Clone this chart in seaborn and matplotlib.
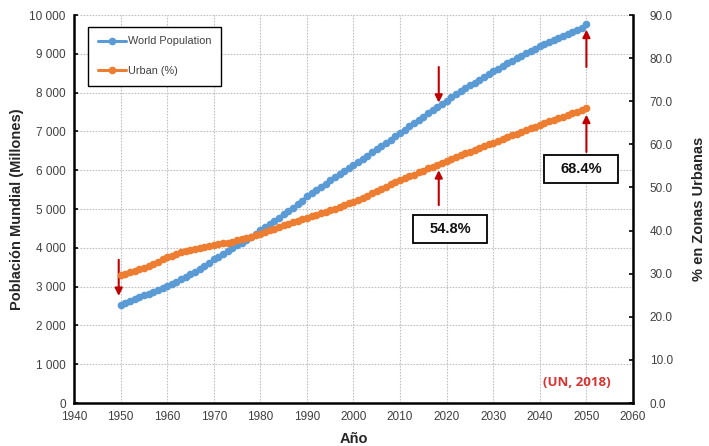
import numpy as np
import pandas as pd
import matplotlib
matplotlib.use("Agg")
import matplotlib.pyplot as plt
from matplotlib.ticker import FuncFormatter, MultipleLocator
from matplotlib.patches import Rectangle
import seaborn as sns

years = list(range(1950, 2051))
world_population = [
    2536, 2584, 2631, 2678, 2725, 2773, 2821, 2869, 2918, 2966,
    3018, 3068, 3126, 3190, 3256, 3322, 3389, 3455, 3525, 3596,
    3700, 3773, 3845, 3917, 3988, 4061, 4132, 4203, 4275, 4349,
    4458, 4536, 4617, 4699, 4780, 4863, 4947, 5033, 5120, 5207,
    5331, 5413, 5494, 5574, 5654, 5744, 5822, 5900, 5977, 6054,
    6145, 6222, 6300, 6378, 6457, 6542, 6622, 6704, 6787, 6871,
    6958, 7043, 7128, 7213, 7298, 7383, 7467, 7550, 7633, 7714,
    7795, 7875, 7954, 8032, 8109, 8184, 8259, 8333, 8405, 8476,
    8548, 8617, 8686, 8753, 8819, 8885, 8948, 9011, 9072, 9132,
    9191, 9248, 9305, 9360, 9414, 9467, 9518, 9568, 9617, 9665,
    9772,
]
urban_pct = [
    29.6, 29.9, 30.3, 30.6, 31.0, 31.4, 31.8, 32.3, 32.8, 33.3,
    33.8, 34.2, 34.6, 35.0, 35.3, 35.6, 35.8, 36.0, 36.2, 36.4,
    36.6, 36.8, 37.0, 37.2, 37.4, 37.7, 38.0, 38.3, 38.6, 38.9,
    39.3, 39.7, 40.1, 40.4, 40.8, 41.2, 41.5, 41.9, 42.3, 42.6,
    43.0, 43.3, 43.7, 44.0, 44.4, 44.8, 45.1, 45.5, 45.9, 46.3,
    46.7, 47.2, 47.6, 48.1, 48.6, 49.1, 49.6, 50.1, 50.7, 51.2,
    51.7, 52.2, 52.6, 53.0, 53.5, 53.9, 54.4, 54.8, 55.3, 55.7,
    56.2, 56.6, 57.0, 57.5, 57.9, 58.3, 58.7, 59.1, 59.6, 60.0,
    60.4, 60.8, 61.2, 61.6, 62.1, 62.5, 62.9, 63.3, 63.7, 64.1,
    64.5, 64.9, 65.3, 65.6, 66.0, 66.4, 66.8, 67.2, 67.6, 68.0,
    68.4,
]
x_ticks = list(range(1940, 2061, 10))
series_labels = ["World Population", "Urban (%)"]
box_labels = ["54.8%", "68.4%"]
source_label = "(UN, 2018)"

df = pd.DataFrame({"Año": years, "pop": world_population, "urban": urban_pct})

sns.set_theme(style="white")
plt.rcParams["font.family"] = ["Liberation Sans", "DejaVu Sans"]
narrow = ["Liberation Sans Narrow", "Liberation Sans", "DejaVu Sans"]

BLUE = "#5B9BD5"
ORANGE = "#ED7D31"
RED = "#C00000"
TICKC = "#404040"

fig = plt.figure(figsize=(7.09, 4.46), dpi=100)
ax1 = fig.add_axes([74 / 709, 1 - 403 / 446, 559 / 709, 388 / 446])
ax2 = ax1.twinx()

sns.lineplot(data=df, x="Año", y="pop", ax=ax1, color=BLUE, lw=2.2,
             marker="o", markersize=5.5, markeredgewidth=0, label=series_labels[0],
             legend=False)
sns.lineplot(data=df, x="Año", y="urban", ax=ax2, color=ORANGE, lw=2.2,
             marker="o", markersize=5.5, markeredgewidth=0, label=series_labels[1],
             legend=False)

ax1.set_xlim(1940, 2060)
ax1.set_ylim(0, 10000)
ax2.set_ylim(0, 90)
ax1.set_xticks(x_ticks)
ax1.yaxis.set_major_locator(MultipleLocator(1000))
ax2.yaxis.set_major_locator(MultipleLocator(10))
ax1.yaxis.set_major_formatter(FuncFormatter(lambda v, p: f"{int(v):,}".replace(",", " ")))
ax2.yaxis.set_major_formatter(FuncFormatter(lambda v, p: f"{v:.1f}"))

ax1.grid(True, color="#c0c0c0", linestyle=(0, (1.5, 1.2)), linewidth=0.8)
ax2.grid(False)
ax1.set_axisbelow(True)

for ax in (ax1, ax2):
    ax.spines["top"].set_visible(False)
    for s in ("left", "right", "bottom"):
        ax.spines[s].set_color("black")
        ax.spines[s].set_linewidth(1.8)
ax1.spines["right"].set_visible(False)
ax2.spines["left"].set_visible(False)
ax2.spines["bottom"].set_visible(False)

ax1.tick_params(axis="both", direction="in", length=3, width=1.2, color="black",
                labelcolor=TICKC, labelsize=8.5, pad=6)
ax2.tick_params(axis="y", direction="in", length=3, width=1.2, color="black",
                labelcolor=TICKC, labelsize=8.5, pad=12)
for lab in ax1.get_xticklabels() + ax1.get_yticklabels() + ax2.get_yticklabels():
    lab.set_family(narrow)

ax1.set_xlabel("Año", fontsize=10.5, fontweight="bold", labelpad=6)
ax1.set_ylabel("Población Mundial (Millones)", fontsize=10.5, fontweight="bold", labelpad=4)
ax2.set_ylabel("% en Zonas Urbanas", fontsize=10.5, fontweight="bold", labelpad=14)

# legend
h1, l1 = ax1.get_legend_handles_labels()
h2, l2 = ax2.get_legend_handles_labels()
leg = ax2.legend(h1 + h2, l1 + l2, loc="upper left", bbox_to_anchor=(0.025, 0.97),
                 frameon=True, fancybox=False, edgecolor="black", framealpha=1,
                 fontsize=7.8, labelspacing=1.8, handlelength=2.6, handletextpad=0.2,
                 borderpad=0.9, borderaxespad=0)
leg.get_frame().set_linewidth(1.0)
for t in leg.get_texts():
    t.set_family(narrow)
    t.set_color(TICKC)

# arrows
arrows = [
    ((1949.6, 2760), (1949.6, 3690)),
    ((2018.3, 7740), (2018.3, 8660)),
    ((2018.3, 6000), (2018.3, 5100)),
    ((2050, 9620), (2050, 8660)),
    ((2050, 7430), (2050, 6470)),
]
for head, tail in arrows:
    ax1.annotate("", xy=head, xytext=tail,
                 arrowprops=dict(arrowstyle="-|>", color=RED, lw=1.5,
                                 mutation_scale=11, shrinkA=0, shrinkB=0))

# boxes
boxes = [((2012.8, 4124), (2028.7, 4845), box_labels[0]),
         ((2040.9, 5670), (2056.8, 6392), box_labels[1])]
for (x0, y0), (x1, y1), txt in boxes:
    ax1.add_patch(Rectangle((x0, y0), x1 - x0, y1 - y0, facecolor="white",
                            edgecolor="black", lw=1.3, zorder=5))
    ax1.text((x0 + x1) / 2, (y0 + y1) / 2, txt, ha="center", va="center",
             fontsize=10.5, fontweight="bold", family=narrow, zorder=6, color="#111111")

ax1.text(2048, 520, source_label, ha="center", va="center", color="#D93230",
         fontsize=9.5, fontweight="bold", family=["Open Sans", "DejaVu Sans"])

fig.savefig("out.png", dpi=100)
